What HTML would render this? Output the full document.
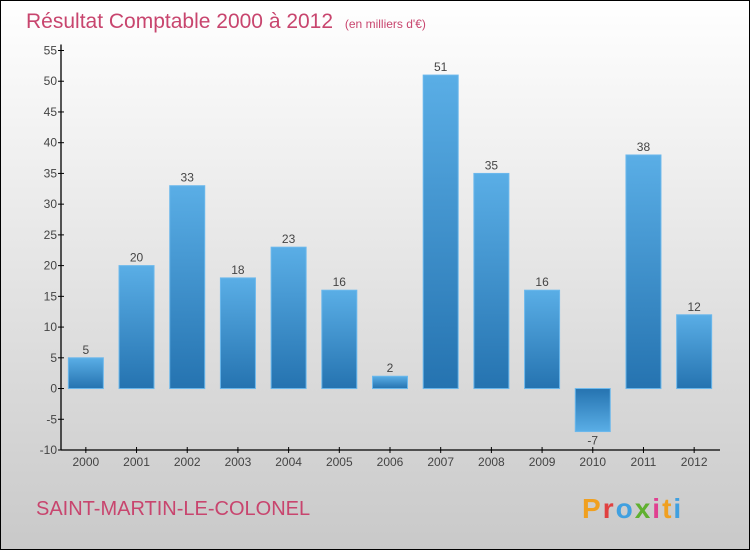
<!DOCTYPE html>
<html><head><meta charset="utf-8"><style>
html,body{margin:0;padding:0}
body{width:750px;height:550px;overflow:hidden;font-family:"Liberation Sans",sans-serif}
</style></head><body>
<svg width="750" height="550" xmlns="http://www.w3.org/2000/svg">
<defs>
<linearGradient id="bg" x1="0" y1="0" x2="0" y2="1"><stop offset="0" stop-color="#ffffff"/><stop offset="1" stop-color="#c9c9c9"/></linearGradient>
<linearGradient id="bar" x1="0" y1="0" x2="0" y2="1"><stop offset="0" stop-color="#5aaee6"/><stop offset="1" stop-color="#2573b0"/></linearGradient>
<linearGradient id="barn" x1="0" y1="0" x2="0" y2="1"><stop offset="0" stop-color="#2573b0"/><stop offset="1" stop-color="#5aaee6"/></linearGradient>
</defs>
<rect x="0.5" y="0.5" width="749" height="549" fill="url(#bg)" stroke="#000"/>
<text x="26" y="28" font-size="21" fill="#c8456e">Résultat Comptable 2000 à 2012 <tspan font-size="12" dx="6">(en milliers d'€)</tspan></text>
<g id="yaxis"></g>
<g id="xaxis"></g>
<g id="bars"></g>
<text x="36" y="515" font-size="20" fill="#c8456e">SAINT-MARTIN-LE-COLONEL</text>
<text x="582" y="518" font-size="28" font-weight="bold" letter-spacing="2" fill="#f0a020">P<tspan fill="#e04040">r</tspan><tspan fill="#40a0e0">o</tspan><tspan fill="#60b030">x</tspan><tspan fill="#e04090">i</tspan><tspan fill="#f0a020">t</tspan><tspan fill="#40a0e0">i</tspan></text>
</svg>
<script>
const categories=["2000","2001","2002","2003","2004","2005","2006","2007","2008","2009","2010","2011","2012"];
const values=[5,20,33,18,23,16,2,51,35,16,-7,38,12];
const yTicks=[-10,-5,0,5,10,15,20,25,30,35,40,45,50,55];
const NS="http://www.w3.org/2000/svg";
const x0=61,x1=720,yMin=-10,yMax=55,yTop=50.5,yBot=450;
const y=v=>yBot-(v-yMin)/(yMax-yMin)*(yBot-yTop);
const step=(x1-x0)/categories.length;
const xc=i=>x0+step*(i+0.5)-0.5;
function mk(tag,attrs,parent){const e=document.createElementNS(NS,tag);for(const k in attrs)e.setAttribute(k,attrs[k]);parent.appendChild(e);return e;}
const ya=document.getElementById('yaxis'),xa=document.getElementById('xaxis'),bg=document.getElementById('bars');
let l=mk('line',{x1:x0,y1:yTop-6,x2:x0,y2:yBot,stroke:'#000','stroke-width':1.3},ya);


yTicks.forEach(t=>{
 let tk=mk('line',{x1:x0-3,x2:x0+3,y1:y(t),y2:y(t),stroke:'#000'},ya);
 
 
 let tx=mk('text',{x:x0-4,y:y(t)+4,'font-size':12,'text-anchor':'end',fill:'#444'},ya);
 tx.textContent=t;
 
 
});
l=mk('line',{x1:x0,y1:yBot,x2:x1,y2:yBot,stroke:'#000','stroke-width':1.3},xa);


categories.forEach((c,i)=>{
 let tk=mk('line',{x1:xc(i),x2:xc(i),y1:yBot-3,y2:yBot+3,stroke:'#000'},xa);
 
 
 let tx=mk('text',{x:xc(i),y:yBot+16,'font-size':12,'text-anchor':'middle',fill:'#444'},xa);
 tx.textContent=c;
 
 
 const v=values[i],top=Math.min(y(v),y(0)),h=Math.abs(y(v)-y(0));
 let r=mk('rect',{x:xc(i)-17.5,y:top,width:35,height:h,fill:v<0?'url(#barn)':'url(#bar)',stroke:'#6bb8ec','stroke-width':1},bg);
 
 
 let lb=mk('text',{x:xc(i),y:v<0?y(v)+13:y(v)-4,'font-size':12,'text-anchor':'middle',fill:'#444'},bg);
 lb.textContent=v;
 
 
});
</script>
</body></html>
